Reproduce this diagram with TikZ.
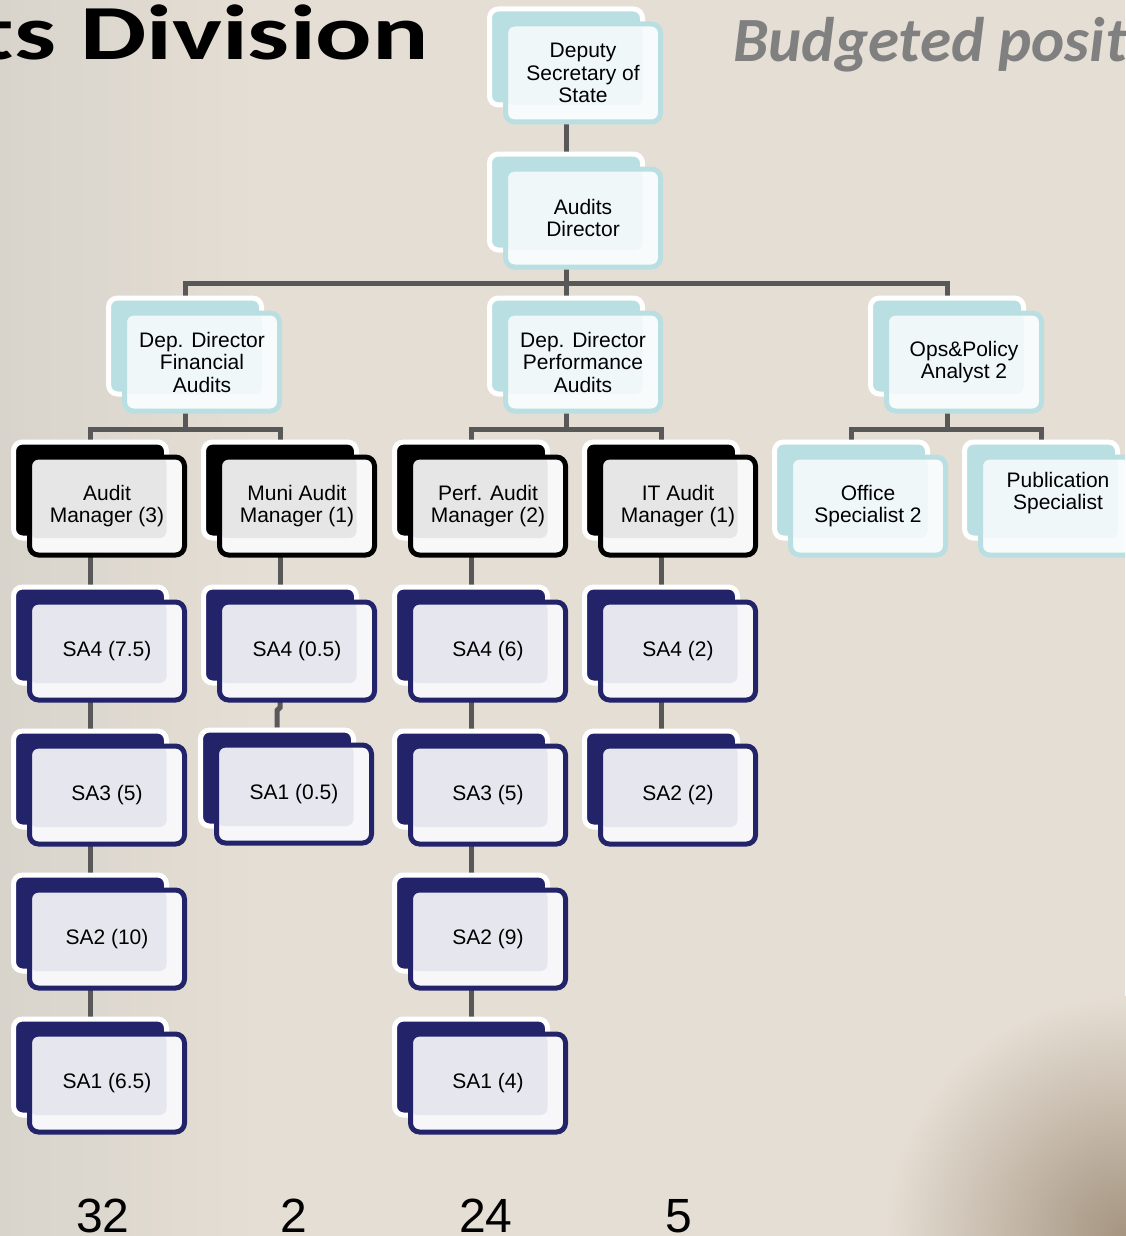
\documentclass[tikz,border=0pt]{standalone}
\usepackage{fontspec}
\setmainfont{Liberation Sans}
\newfontfamily\titlefont{Carlito}
\usetikzlibrary{positioning,backgrounds}

\definecolor{paper}{RGB}{229,222,212}
\definecolor{paperedge}{RGB}{216,212,204}
\definecolor{papercorner}{RGB}{165,148,128}
\definecolor{linegray}{RGB}{88,88,88}
\definecolor{paleteal}{RGB}{185,223,227}
\definecolor{tealface}{RGB}{248,251,251}
\definecolor{tealinner}{RGB}{239,247,248}
\definecolor{navy}{RGB}{35,35,105}
\definecolor{navyface}{RGB}{247,247,249}
\definecolor{navyinner}{RGB}{230,231,238}
\definecolor{inkface}{RGB}{248,248,248}
\definecolor{inkinner}{RGB}{230,230,230}
\definecolor{titlegray}{RGB}{128,128,128}

\tikzset{
  card/.style={rounded corners=9pt, line width=5pt, inner sep=0pt},
  cardback/.style={card, draw=white, fill=#1, minimum width=153pt, minimum height=96pt},
  cardface/.style n args={3}{card, draw=#1, fill=#2, align=center,
    minimum width=155pt, minimum height=98pt,
    font=\fontsize{21}{22.5}\selectfont,
    path picture={\fill[#3, rounded corners=7pt] (path picture bounding box.north west)
      rectangle ([xshift=-18pt,yshift=17pt]path picture bounding box.south east);}},
  teal back/.style={cardback=paleteal},
  teal face/.style={cardface={paleteal}{tealface}{tealinner}},
  ink back/.style={cardback=black},
  ink face/.style={cardface={black}{inkface}{inkinner}},
  navy back/.style={cardback=navy},
  navy face/.style={cardface={navy}{navyface}{navyinner}},
  link/.style={draw=linegray, line width=5pt},
  total/.style={anchor=base, inner sep=0pt, font=\fontsize{48}{50}\selectfont},
}

% back card, then the face card pushed down and right
\newcommand{\orgcard}[5][]{%
  \node[#3 back] (#2) at (#4) {};
  \node[#3 face,#1] (#2-f) at ([shift={(17,16)}]#2.center) {#5};}

\begin{document}
\begin{tikzpicture}[x=1pt,y=-1pt]
  \path[use as bounding box, clip] (0,0) rectangle (1125,1236);

  \node[anchor=base east, inner sep=0pt, font=\titlefont\bfseries\fontsize{78}{80}\selectfont] (title) at (429,60) {\scalebox{1.35}[1]{Audits Division}};
  \node[anchor=base west, inner sep=0pt, text=titlegray, font=\titlefont\bfseries\itshape\fontsize{63}{66}\selectfont] (subtitle) at (733,62) {Budgeted positions};

  % top of the chart
  \orgcard{dss}{teal}{566,57}{Deputy\\Secretary of\\State}
  \orgcard{adir}{teal}{566,202}{Audits\\Director}
  \orgcard{dfa}{teal}{185,346}{Dep. Director\\Financial\\Audits}
  \orgcard{dpa}{teal}{566,346}{Dep. Director\\Performance\\Audits}
  \orgcard{ops}{teal}{947,346}{Ops\&Policy\\Analyst 2}

  % managers and staff
  \orgcard{am}{ink}{90,490}{Audit\\Manager (3)}
  \orgcard{mam}{ink}{280,490}{Muni Audit\\Manager (1)}
  \orgcard{pam}{ink}{471,490}{Perf. Audit\\Manager (2)}
  \orgcard{itam}{ink}{661,490}{IT Audit\\Manager (1)}
  \orgcard{os}{teal}{851,490}{Office\\Specialist 2}
  \orgcard[text depth=30pt]{ps}{teal}{1041,490}{Publication\\Specialist}

  % financial audits
  \orgcard{sa4a}{navy}{90,635}{SA4 (7.5)}
  \orgcard{sa3a}{navy}{90,779}{SA3 (5)}
  \orgcard{sa2a}{navy}{90,923}{SA2 (10)}
  \orgcard{sa1a}{navy}{90,1067}{SA1 (6.5)}
  % muni
  \orgcard{sa4b}{navy}{280,635}{SA4 (0.5)}
  \orgcard{sa1b}{navy}{277,778}{SA1 (0.5)}
  % performance
  \orgcard{sa4c}{navy}{471,635}{SA4 (6)}
  \orgcard{sa3c}{navy}{471,779}{SA3 (5)}
  \orgcard{sa2c}{navy}{471,923}{SA2 (9)}
  \orgcard{sa1c}{navy}{471,1067}{SA1 (4)}
  % IT
  \orgcard{sa4d}{navy}{661,635}{SA4 (2)}
  \orgcard{sa2d}{navy}{661,779}{SA2 (2)}

  \node[total] (tot-fa) at (103,1232) {32};
  \node[total] (tot-ma) at (294,1232) {2};
  \node[total] (tot-pa) at (486,1232) {24};
  \node[total] (tot-it) at (679,1232) {5};

  \begin{scope}[on background layer]
    \fill[paper] (0,0) rectangle (1125,1236);
    \shade[left color=paperedge, right color=paper] (0,0) rectangle (260,1236);
    \shade[inner color=papercorner, outer color=paper] (1125,1236) circle (240);
    \draw[link] (dss.south) -- (adir.north);
    \draw[link] (adir.south) -- (dpa.north);
    \coordinate (bar1) at ([yshift=-31pt]adir.south);
    \draw[link] (dfa.north) |- (bar1) -| (ops.north);
    \foreach \head/\left/\right in {dfa/am/mam, dpa/pam/itam, ops/os/ps}{
      \coordinate (bar-\head) at ([yshift=-33pt]\head.south);
      \draw[link] (\head.south) -- (bar-\head);
      \draw[link] (\left.north) |- (bar-\head) -| (\right.north);
    }
    \draw[link] (am.south) -- (sa4a.north) (sa4a.south) -- (sa3a.north)
      (sa3a.south) -- (sa2a.north) (sa2a.south) -- (sa1a.north);
    \draw[link] (mam.south) -- (sa4b.north);
    \draw[link] (sa4b.south) -- ++(0,22) -- ++(-3,3) -- (sa1b.north);
    \draw[link] (pam.south) -- (sa4c.north) (sa4c.south) -- (sa3c.north)
      (sa3c.south) -- (sa2c.north) (sa2c.south) -- (sa1c.north);
    \draw[link] (itam.south) -- (sa4d.north) (sa4d.south) -- (sa2d.north);
  \end{scope}
\end{tikzpicture}
\end{document}
